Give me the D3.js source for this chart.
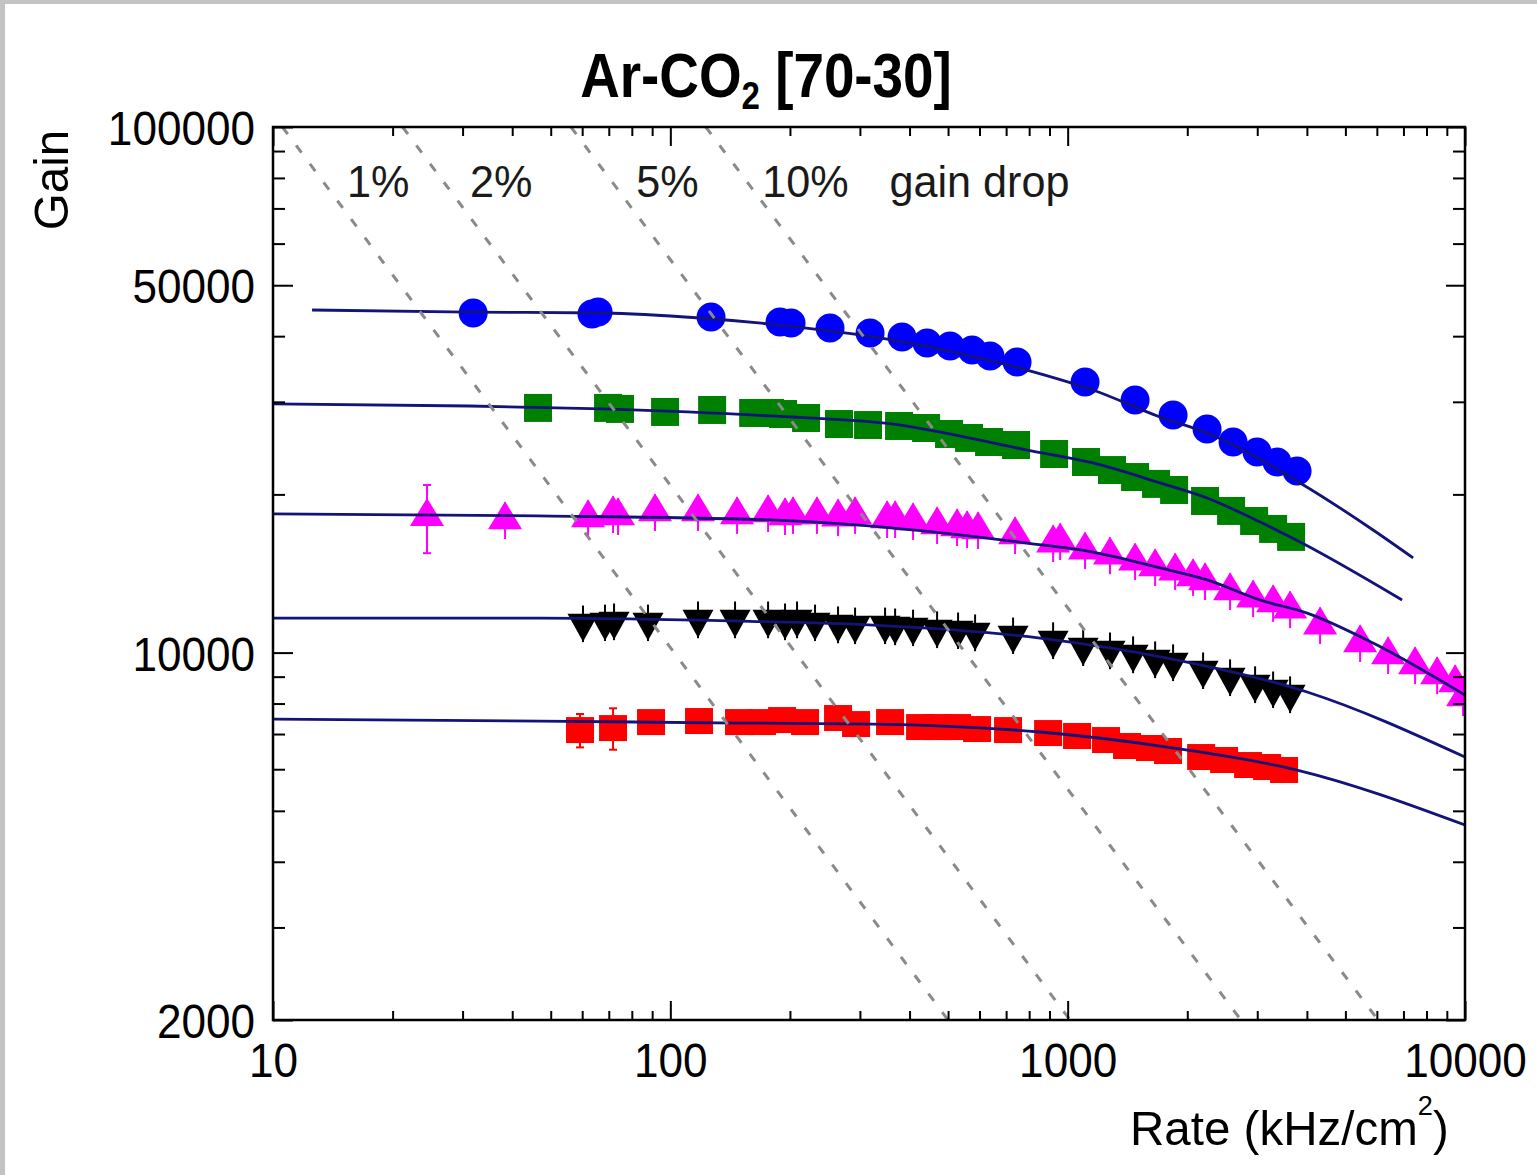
<!DOCTYPE html>
<html>
<head>
<meta charset="utf-8">
<script src="https://cdn.jsdelivr.net/npm/d3@7"></script>
<style>
html, body { margin: 0; padding: 0; background: #fff; }
svg { display: block; }
text { font-family: "Liberation Sans", Arial, Helvetica, sans-serif; }
</style>
</head>
<body>
<svg id="chart" width="1537" height="1175"></svg>
<script>
// ---------------- axis ticks ----------------
const xTickValues = [10, 100, 1000, 10000];
const xTickLabels = ["10", "100", "1000", "10000"];
const yTickValues = [100000, 50000, 10000, 2000];
const yTickLabels = ["100000", "50000", "10000", "2000"];

// ---------------- measured points (rate in kHz/cm2, gain) ----------------
const blueRate = [31.9, 63.5, 65.8, 126.6, 188.8, 201.3, 252.3, 318.2, 383, 442.7, 505.8, 574.7, 637.8, 745.8, 1106, 1478, 1842, 2243, 2608, 2997, 3365, 3779];
const blueGain = [44270, 44070, 44460, 43500, 42560, 42370, 41460, 40560, 39860, 38820, 38320, 37650, 36670, 35720, 32720, 30240, 28320, 26630, 25160, 24070, 23050, 22150];

const greenRate = [46.45, 69.7, 74.7, 97.0, 127.4, 161.6, 178.2, 192.2, 219.6, 265.8, 314.5, 376.4, 440.2, 502.9, 564.8, 634.2, 741.5, 924.4, 1112, 1293, 1478, 1669, 1853, 2217, 2578, 2946, 3289, 3650];
const greenGain = [29210, 29210, 29080, 28700, 28950, 28570, 28570, 28440, 27950, 27220, 27100, 26990, 26750, 26060, 25610, 25160, 24830, 23870, 23050, 22250, 21580, 20940, 20390, 19430, 18600, 17800, 17190, 16600];

const magentaRate = [24.41, 38.37, 62.08, 71.75, 73.86, 91.51, 117.4, 147.2, 176.2, 194.4, 203.6, 233.9, 264.3, 291.7, 351.2, 367.9, 408.2, 469.2, 526.8, 558.3, 595, 737.3, 919.1, 957.3, 1106, 1278, 1478, 1660, 1864, 2068, 2217, 2563, 2929, 3289, 3629, 4318, 5445, 6404, 7487, 8508, 9443, 9890];
const magentaGain = [18150, 17880, 18040, 18360, 18200, 18520, 18520, 18280, 18440, 18200, 18280, 18280, 18110, 18280, 17960, 17960, 17800, 17490, 17340, 17190, 17110, 16740, 16160, 16300, 15670, 15330, 14930, 14550, 14290, 13930, 13690, 13100, 12700, 12430, 12100, 11280, 10430, 9895, 9471, 9066, 8755, 8232];
const magentaErr = [2690, 1430, 1440, 1470, 1460, 1480, 1480, 1460, 1480, 1460, 1460, 1460, 1450, 1460, 1440, 1440, 1420, 1400, 1390, 1380, 1370, 1340, 1290, 1300, 1250, 1230, 1190, 1160, 1140, 1110, 1100, 1050, 1020, 990, 970, 900, 830, 790, 760, 730, 700, 660];

const blackRate = [60.29, 68.48, 72.17, 87.86, 117.4, 145.5, 176.2, 194.4, 208.4, 231.3, 264.3, 291.7, 347.1, 367.9, 408.2, 469.2, 529.9, 584.8, 728.8, 919.1, 1094, 1278, 1461, 1660, 1842, 2192, 2563, 2963, 3289, 3629];
const blackGain = [11380, 11430, 11480, 11430, 11580, 11580, 11580, 11480, 11580, 11430, 11330, 11280, 11280, 11230, 11180, 11090, 11040, 10940, 10800, 10570, 10250, 10110, 9938, 9723, 9596, 9266, 8987, 8716, 8526, 8341];
const blackErr = [910, 910, 920, 910, 930, 930, 930, 920, 930, 910, 910, 900, 900, 900, 890, 890, 880, 880, 860, 850, 820, 810, 800, 780, 770, 740, 720, 700, 680, 670];

const redRate = [59.25, 71.75, 89.42, 118.1, 148.9, 170.1, 191.1, 218.3, 264.3, 293.4, 357.3, 425.2, 471.9, 526.8, 591.6, 707.9, 892.8, 1056, 1249, 1411, 1612, 1789, 2167, 2476, 2845, 3177, 3505];
const redGain = [7122, 7185, 7376, 7410, 7376, 7376, 7442, 7376, 7508, 7312, 7376, 7217, 7217, 7217, 7154, 7122, 7030, 6939, 6818, 6642, 6584, 6498, 6329, 6247, 6111, 6058, 5979];
const redErr = [520, 650, 390, 390, 390, 390, 390, 390, 400, 390, 390, 380, 380, 380, 380, 380, 370, 370, 360, 350, 350, 340, 340, 330, 320, 320, 320];

// ---------------- fitted curves ----------------
const blueFitRate = [12.54, 31.3, 67.7, 118.8, 178.2, 363.6, 790.4, 1158, 1708, 2243, 3846, 5871, 7404];
const blueFitGain = [44860, 44460, 44270, 43310, 42180, 39330, 34480, 31590, 28070, 26170, 21030, 17110, 15140];
const greenFitRate = [10, 31.3, 67.7, 178.2, 363.6, 790.4, 1158, 1708, 2243, 3050, 3846, 6945];
const greenFitGain = [29720, 29460, 29080, 28200, 27220, 24290, 22950, 21030, 19690, 17720, 16230, 12590];
const magentaFitRate = [10, 46.18, 178.2, 363.6, 790.4, 1158, 1708, 2243, 3050, 4005, 5871, 10000];
const magentaFitGain = [18360, 18200, 17880, 17260, 16160, 15530, 14490, 13750, 12590, 11890, 10430, 8304];
const blackFitRate = [10, 46.99, 149.8, 323.7, 852.2, 1779, 4005, 10000];
const blackFitGain = [11630, 11630, 11480, 11280, 10660, 9766, 8414, 6329];
const redFitRate = [10, 46.99, 149.8, 323.7, 852.2, 1779, 3779, 10000];
const redFitGain = [7475, 7410, 7345, 7312, 7062, 6613, 5979, 4699];

// ---------------- constant gain-drop guide lines ----------------
const dropLabels = ["1%", "2%", "5%", "10%", "gain drop"];
const dropLabelRate = [15.35, 31.3, 82.1, 170.4, 356];
const dropLabelGain = 73500;
const dropTopRate = [10.56, 21.19, 56.2, 122.8];
const dropBottomRate = [500, 1014, 2730, 6040];
const dropGainRange = [100000, 2000];

// ---------------- layout ----------------
const W = 1537, H = 1175;
const plot = { left: 273, right: 1465, top: 127, bottom: 1020 };
const NAVY = "#13137a";

const svg = d3.select("#chart");
svg.append("rect").attr("width", W).attr("height", H).attr("fill", "#fff");
svg.append("rect").attr("x", 0).attr("y", 0).attr("width", W).attr("height", 4).attr("fill", "#c3c3c3");
svg.append("rect").attr("x", 0).attr("y", 0).attr("width", 5).attr("height", H).attr("fill", "#c3c3c3");

const x = d3.scaleLog().domain([10, 10000]).range([plot.left, plot.right]);
const y = d3.scaleLog().domain([2000, 100000]).range([plot.bottom, plot.top]);

svg.append("clipPath").attr("id", "plotClip").append("rect")
  .attr("x", plot.left).attr("y", plot.top)
  .attr("width", plot.right - plot.left).attr("height", plot.bottom - plot.top);

const layer = svg.append("g").attr("clip-path", "url(#plotClip)");

// ---------------- markers ----------------
const zip = (r, g, e) => r.map((v, i) => ({ rate: v, gain: g[i], err: e ? e[i] : 0 }));

const series = [
  { pts: zip(redRate, redGain, redErr), color: "#ff0000", shape: "square", w: 28, h: 26 },
  { pts: zip(blackRate, blackGain, blackErr), color: "#000000", shape: "down", w: 31, h: 28 },
  { pts: zip(magentaRate, magentaGain, magentaErr), color: "#ff00ff", shape: "up", w: 34, h: 28 },
  { pts: zip(greenRate, greenGain, null), color: "#008000", shape: "square", w: 28, h: 28 },
  { pts: zip(blueRate, blueGain, null), color: "#0000ff", shape: "circle", w: 29, h: 29 }
];

function triPath(w, h, down) {
  const s = down ? -1 : 1;
  const top = -s * h * 2 / 3, base = s * h / 3;
  return `M0,${top}L${w / 2},${base}L${-w / 2},${base}Z`;
}

// how far a marker reaches above / below its anchor point
function extent(s) {
  if (s.shape === "up") return [s.h * 2 / 3, s.h / 3];
  if (s.shape === "down") return [s.h / 3, s.h * 2 / 3];
  return [s.h / 2, s.h / 2];
}

series.forEach(s => {
  const g = layer.append("g");
  const [above, below] = extent(s);
  const withErr = s.pts.filter(d => d.err > 0);
  const eb = g.selectAll("g.err").data(withErr).join("g")
    .attr("stroke", s.color).attr("stroke-width", 2);
  eb.append("line")
    .attr("x1", d => x(d.rate)).attr("x2", d => x(d.rate))
    .attr("y1", d => y(d.gain + d.err)).attr("y2", d => y(d.gain - d.err));
  // caps only where the bar reaches past the marker on both sides
  const capped = eb.filter(d => (y(d.gain) - y(d.gain + d.err)) > above + 1 &&
                                (y(d.gain - d.err) - y(d.gain)) > below + 1);
  capped.append("line")
    .attr("x1", d => x(d.rate) - 4).attr("x2", d => x(d.rate) + 4)
    .attr("y1", d => y(d.gain + d.err)).attr("y2", d => y(d.gain + d.err));
  capped.append("line")
    .attr("x1", d => x(d.rate) - 4).attr("x2", d => x(d.rate) + 4)
    .attr("y1", d => y(d.gain - d.err)).attr("y2", d => y(d.gain - d.err));

  if (s.shape === "circle") {
    g.selectAll("circle").data(s.pts).join("circle")
      .attr("cx", d => x(d.rate)).attr("cy", d => y(d.gain))
      .attr("r", s.w / 2).attr("fill", s.color);
  } else if (s.shape === "square") {
    g.selectAll("rect").data(s.pts).join("rect")
      .attr("x", d => x(d.rate) - s.w / 2).attr("y", d => y(d.gain) - s.h / 2)
      .attr("width", s.w).attr("height", s.h).attr("fill", s.color);
  } else {
    const p = triPath(s.w, s.h, s.shape === "down");
    g.selectAll("path").data(s.pts).join("path")
      .attr("d", p)
      .attr("transform", d => `translate(${x(d.rate)},${y(d.gain)})`)
      .attr("fill", s.color);
  }
});

// ---------------- fitted curves ----------------
const fitLine = d3.line().x(d => x(d[0])).y(d => y(d[1])).curve(d3.curveMonotoneX);
const fits = [
  [blueFitRate, blueFitGain], [greenFitRate, greenFitGain], [magentaFitRate, magentaFitGain],
  [blackFitRate, blackFitGain], [redFitRate, redFitGain]
];
fits.forEach(([r, g]) => {
  layer.append("path")
    .attr("d", fitLine(r.map((v, i) => [v, g[i]])))
    .attr("fill", "none").attr("stroke", NAVY).attr("stroke-width", 2.8);
});

// ---------------- gain-drop guides ----------------
const guideLine = d3.line().x(d => x(d[0])).y(d => y(d[1]));
dropTopRate.forEach((r0, i) => {
  layer.append("path")
    .attr("d", guideLine([[r0, dropGainRange[0]], [dropBottomRate[i], dropGainRange[1]]]))
    .attr("fill", "none").attr("stroke", "#8a8a8a").attr("stroke-width", 3)
    .attr("stroke-dasharray", "9 14");
});

dropLabels.forEach((t, i) => {
  svg.append("g")
    .attr("transform", `translate(${x(dropLabelRate[i])},${y(dropLabelGain)}) scale(0.96,1)`)
    .append("text").attr("font-size", 45).attr("fill", "#1a1a1a").text(t);
});

// ---------------- axes ----------------
function tidy(g) {
  g.select(".domain").remove();
  g.attr("font-family", null).attr("font-size", null);
  g.selectAll("line").attr("stroke", "#000").attr("stroke-width", 2);
}
const xMinor = x.ticks().filter(v => !xTickValues.includes(v));
const yMinor = y.ticks().filter(v => !yTickValues.includes(v));

svg.append("g").attr("transform", `translate(0,${plot.bottom})`)
  .call(d3.axisBottom(x).tickValues(xMinor).tickSizeInner(-9).tickSizeOuter(0).tickFormat("")).call(tidy);
svg.append("g").attr("transform", `translate(0,${plot.top})`)
  .call(d3.axisTop(x).tickValues(xMinor).tickSizeInner(-9).tickSizeOuter(0).tickFormat("")).call(tidy);
svg.append("g").attr("transform", `translate(0,${plot.top})`)
  .call(d3.axisTop(x).tickValues(xTickValues).tickSizeInner(-19).tickSizeOuter(0).tickFormat("")).call(tidy);
svg.append("g").attr("transform", `translate(${plot.left},0)`)
  .call(d3.axisLeft(y).tickValues(yMinor).tickSizeInner(-12).tickSizeOuter(0).tickFormat("")).call(tidy);
svg.append("g").attr("transform", `translate(${plot.right},0)`)
  .call(d3.axisRight(y).tickValues(yMinor).tickSizeInner(-12).tickSizeOuter(0).tickFormat("")).call(tidy);
svg.append("g").attr("transform", `translate(${plot.right},0)`)
  .call(d3.axisRight(y).tickValues(yTickValues).tickSizeInner(-19).tickSizeOuter(0).tickFormat("")).call(tidy);

const xMajor = svg.append("g").attr("transform", `translate(0,${plot.bottom})`)
  .call(d3.axisBottom(x).tickValues(xTickValues).tickFormat((d, i) => xTickLabels[i])
    .tickSizeInner(-19).tickSizeOuter(0).tickPadding(22)).call(tidy);
xMajor.selectAll("text").attr("font-size", 49).attr("fill", "#000").attr("transform", "scale(0.9,1)");

const yMajor = svg.append("g").attr("transform", `translate(${plot.left},0)`)
  .call(d3.axisLeft(y).tickValues(yTickValues).tickFormat((d, i) => yTickLabels[i])
    .tickSizeInner(-20).tickSizeOuter(0).tickPadding(20)).call(tidy);
yMajor.selectAll("text").attr("font-size", 49).attr("fill", "#000").attr("dy", "0.36em")
  .attr("transform", "scale(0.9,1)");

// frame
svg.append("rect")
  .attr("x", plot.left).attr("y", plot.top)
  .attr("width", plot.right - plot.left).attr("height", plot.bottom - plot.top)
  .attr("fill", "none").attr("stroke", "#000").attr("stroke-width", 2.5);

// ---------------- titles ----------------
const title = svg.append("g").attr("transform", "translate(766,97) scale(0.87,1)")
  .append("text").attr("text-anchor", "middle").attr("font-weight", "bold").attr("font-size", 63).attr("fill", "#000");
title.append("tspan").text("Ar-CO");
title.append("tspan").attr("font-size", 38).attr("dy", 12).text("2");
title.append("tspan").attr("dy", -12).text(" [70-30]");

svg.append("g").attr("transform", "translate(68,180) rotate(-90) scale(0.97,1)")
  .append("text").attr("text-anchor", "middle").attr("font-size", 49).attr("fill", "#000").text("Gain");

const xt = svg.append("g").attr("transform", "translate(1130,1145) scale(0.97,1)")
  .append("text").attr("font-size", 49).attr("fill", "#000");
xt.append("tspan").text("Rate (kHz/cm");
xt.append("tspan").attr("font-size", 28).attr("dy", -30).text("2");
xt.append("tspan").attr("dy", 30).text(")");
</script>
</body>
</html>
